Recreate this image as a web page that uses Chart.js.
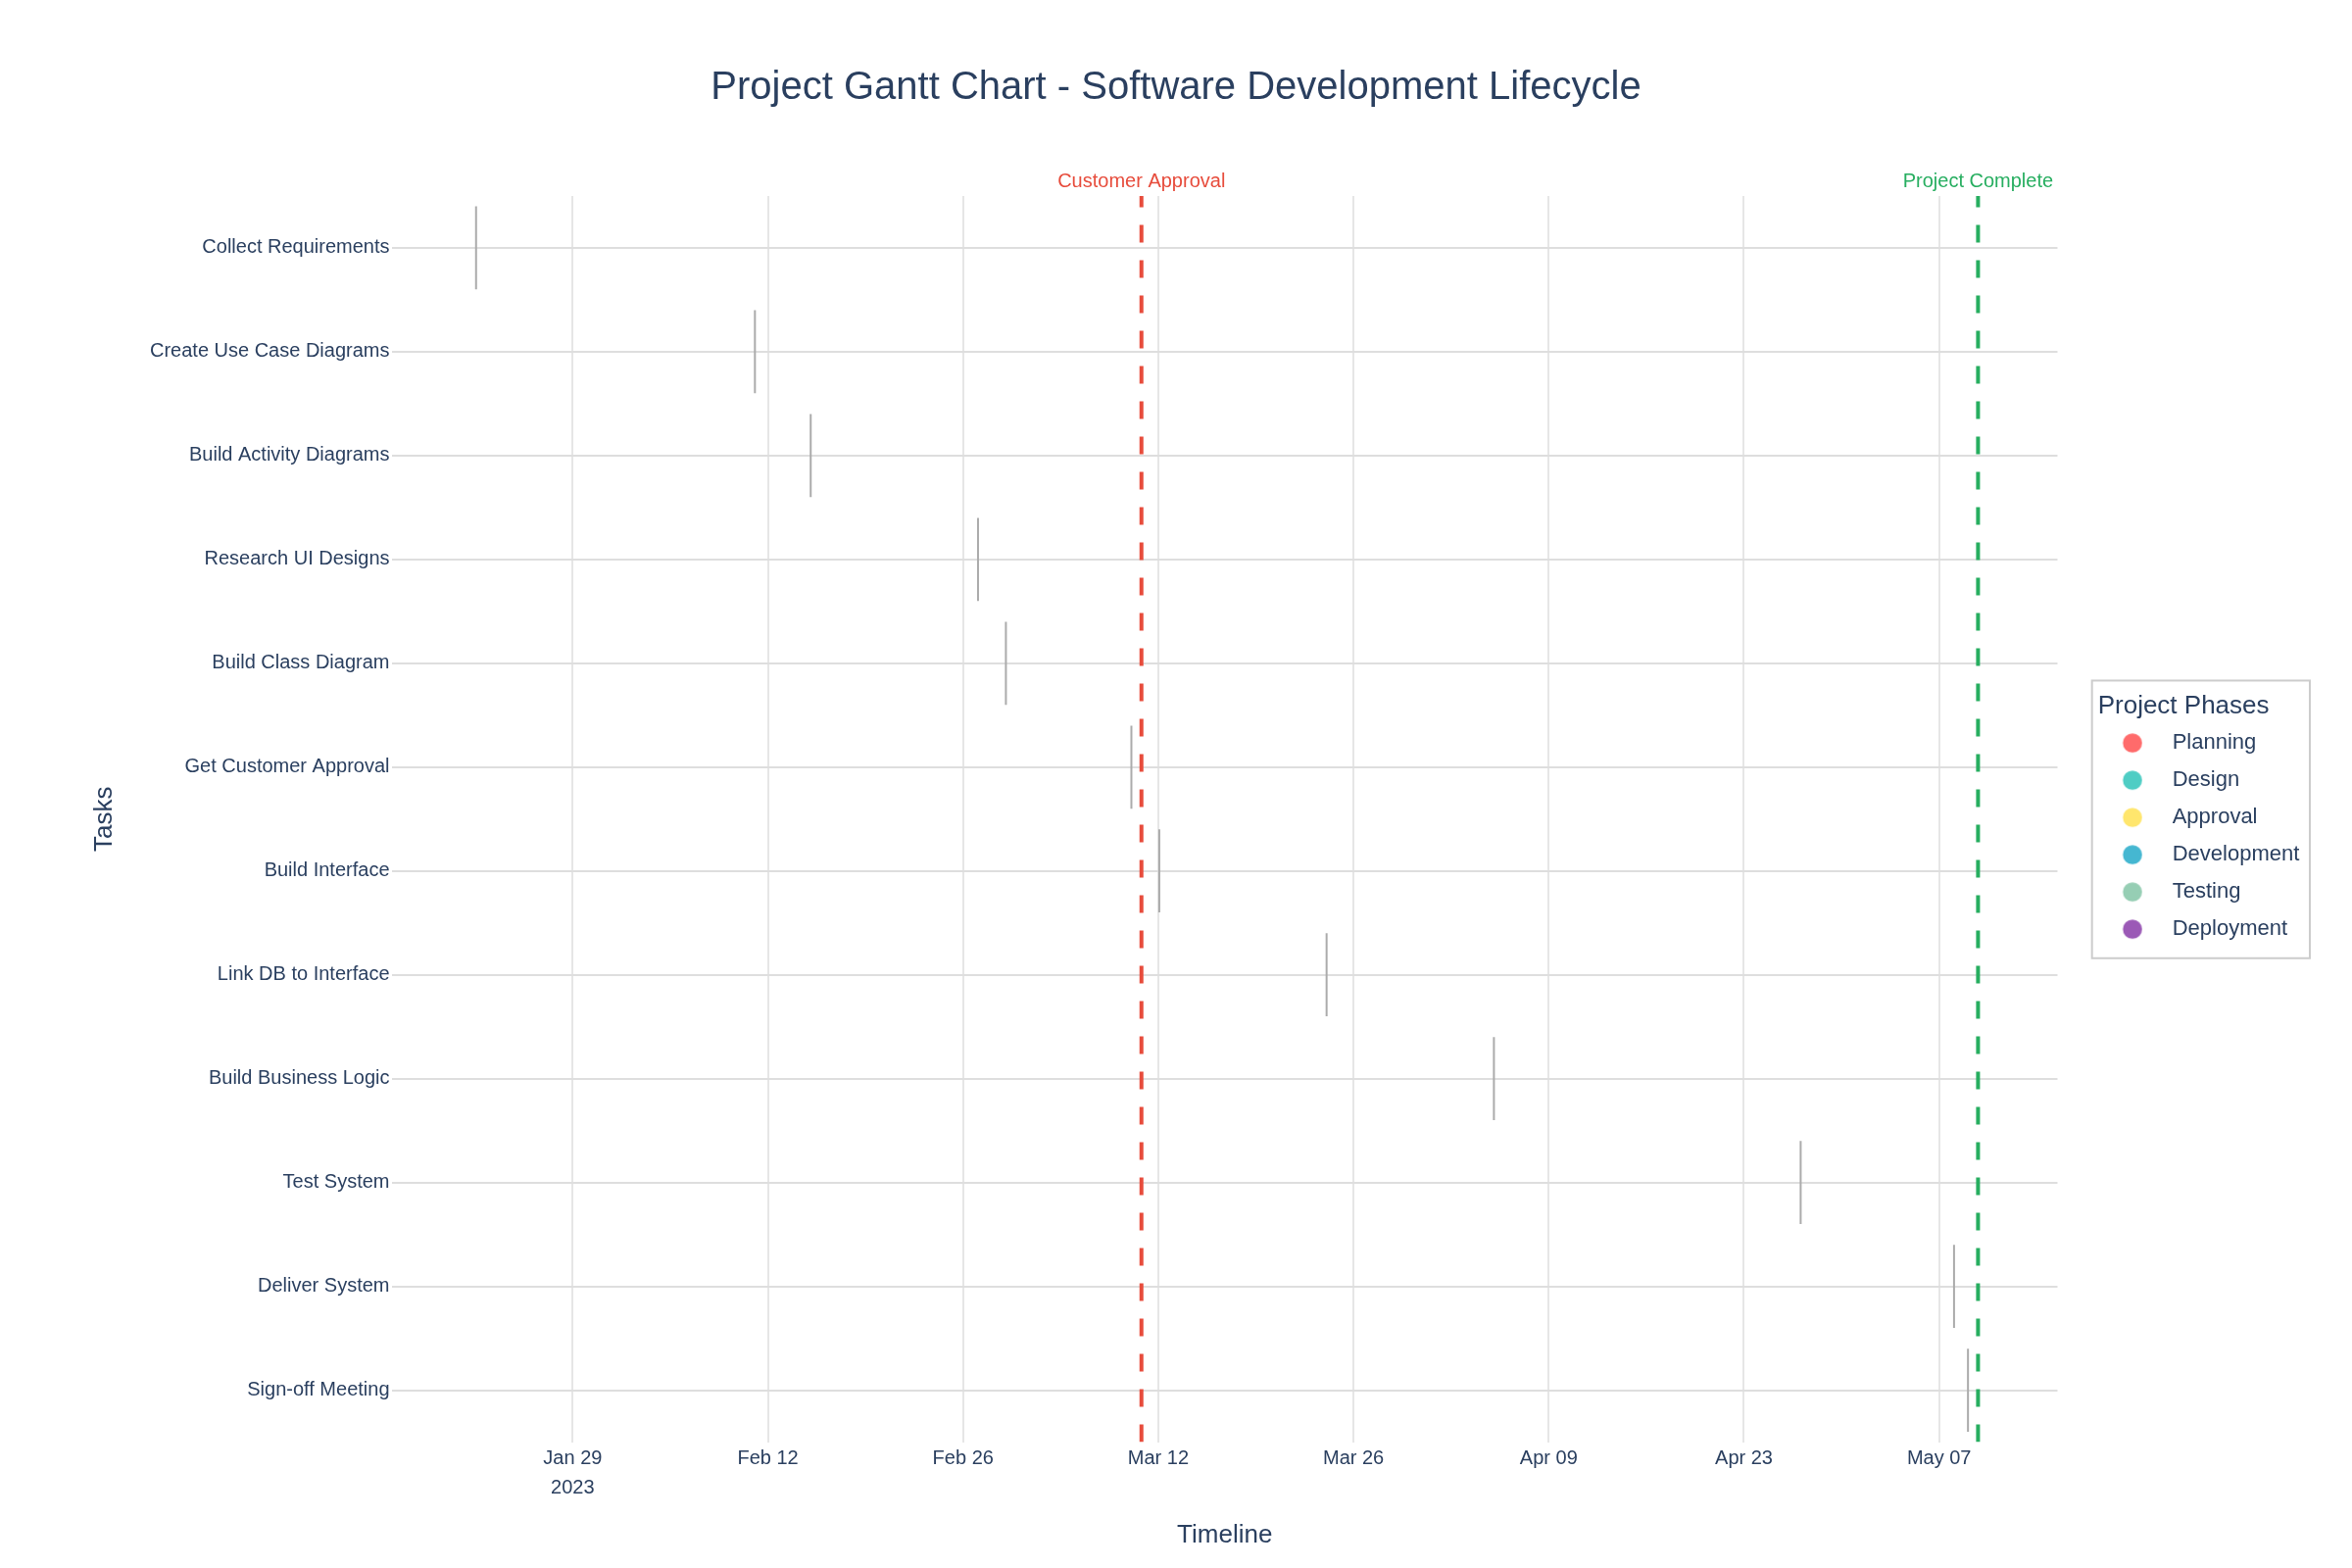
<!DOCTYPE html>
<html>
<head>
<meta charset="utf-8">
<script src="https://cdn.jsdelivr.net/npm/chart.js@4"></script>
<style>
  html, body { margin: 0; padding: 0; background: #ffffff; }
  canvas { display: block; }
</style>
</head>
<body>
<canvas id="chart" width="2400" height="1600"></canvas>
<script>
// ---------- DATA ----------
const tasks = [
  'Collect Requirements', 'Create Use Case Diagrams', 'Build Activity Diagrams',
  'Research UI Designs', 'Build Class Diagram', 'Get Customer Approval',
  'Build Interface', 'Link DB to Interface', 'Build Business Logic',
  'Test System', 'Deliver System', 'Sign-off Meeting'
];
const taskDates = [
  '2023-01-22', '2023-02-11', '2023-02-15', '2023-02-27', '2023-03-01', '2023-03-10',
  '2023-03-12', '2023-03-24', '2023-04-05', '2023-04-27', '2023-05-08', '2023-05-09'
];
const taskPhases = [
  'Planning', 'Design', 'Design', 'Design', 'Design', 'Approval',
  'Development', 'Development', 'Development', 'Testing', 'Deployment', 'Deployment'
];
const phases = ['Planning', 'Design', 'Approval', 'Development', 'Testing', 'Deployment'];
const phaseColors = ['#FF6B6B', '#4ECDC4', '#FFE66D', '#45B7D1', '#96CEB4', '#9B59B6'];

const milestoneNames = ['Customer Approval', 'Project Complete'];
const milestoneDates = ['2023-03-10T19:00', '2023-05-09T19:00'];
const milestoneColors = ['#E74C3C', '#27AE60'];

const tickDates = ['2023-01-29', '2023-02-12', '2023-02-26', '2023-03-12', '2023-03-26', '2023-04-09', '2023-04-23', '2023-05-07'];
const tickLabels = [['Jan 29', '2023'], 'Feb 12', 'Feb 26', 'Mar 12', 'Mar 26', 'Apr 09', 'Apr 23', 'May 07'];
const axisRange = ['2023-01-16T01:00', '2023-05-15T11:45'];

// ---------- HELPERS ----------
function toDay(s) {
  const [d, t = '00:00'] = s.split('T');
  const [Y, M, D] = d.split('-').map(Number);
  const [h, m] = t.split(':').map(Number);
  return Date.UTC(Y, M - 1, D, h, m) / 86400000;
}
const TEXT = '#2a3f5f';
Chart.defaults.font.family = '"Liberation Sans", Arial, Helvetica, sans-serif';
Chart.defaults.color = TEXT;

function legendDot(color) {
  const c = document.createElement('canvas');
  c.width = 49; c.height = 22;
  const g = c.getContext('2d');
  g.fillStyle = color;
  g.beginPath();
  g.arc(19.3, 11, 9.8, 0, Math.PI * 2);
  g.fill();
  return c;
}
const dots = phaseColors.map(legendDot);

const barDatasets = phases.map((p) => ({
  type: 'bar',
  label: p,
  indexAxis: 'y',
  xAxisID: 'x',
  yAxisID: 'y',
  data: tasks
    .map((t, i) => ({ t, i }))
    .filter(o => taskPhases[o.i] === p)
    .map(o => ({ y: o.t, x: [toDay(taskDates[o.i]), toDay(taskDates[o.i])] })),
  backgroundColor: '#ababab',
  borderWidth: 0,
  minBarLength: 2,
  grouped: false,
  barPercentage: 0.8,
  categoryPercentage: 1.0
}));

const lineDatasets = milestoneNames.map((m, k) => ({
  type: 'line',
  label: m,
  xAxisID: 'x',
  yAxisID: 'y2',
  data: [{ x: toDay(milestoneDates[k]), y: 0 }, { x: toDay(milestoneDates[k]), y: 1 }],
  borderColor: milestoneColors[k],
  borderWidth: 4,
  borderDash: [18, 18],
  pointRadius: 0,
  fill: false,
  tension: 0
}));

const legendBox = {
  id: 'legendBox',
  afterDraw(chart) {
    const L = chart.legend;
    if (!L || !L.legendHitBoxes || !L.legendHitBoxes.length) return;
    const hb = L.legendHitBoxes;
    const top = hb[0].top - 52.7;
    const bottom = hb[hb.length - 1].top + 40.6;
    const ctx = chart.ctx;
    ctx.save();
    ctx.strokeStyle = '#cccccc';
    ctx.lineWidth = 2;
    ctx.strokeRect(L.left - 6, top, 222.3, bottom - top);
    ctx.restore();
  }
};

const xMin = toDay(axisRange[0]);
const xMax = toDay(axisRange[1]);

const chart = new Chart(document.getElementById('chart'), {
  type: 'bar',
  data: { datasets: [...barDatasets, ...lineDatasets] },
  plugins: [legendBox],
  options: {
    responsive: false,
    devicePixelRatio: 1,
    animation: false,
    events: [],
    layout: { padding: { left: 43.7, right: 43.7, top: 0, bottom: 0 } },
    scales: {
      x: {
        type: 'linear', position: 'bottom', min: xMin, max: xMax, bounds: 'data',
        offset: false, beginAtZero: false,
        afterBuildTicks: s => { s.ticks = tickDates.map(d => ({ value: toDay(d) })); },
        afterFit: s => { s.height = 128.5; },
        ticks: {
          autoSkip: false, maxRotation: 0, minRotation: 0, padding: 1.5, color: TEXT,
          font: { size: 20, lineHeight: 1.5 },
          callback: (v, i) => tickLabels[i]
        },
        grid: { offset: false, color: '#e6e6e6', lineWidth: 2, drawTicks: false },
        border: { display: false },
        title: {
          display: true, text: 'Timeline', color: TEXT,
          font: { size: 26, lineHeight: 1.2 }, padding: { top: 0, bottom: 17.4 }
        }
      },
      x2: {
        type: 'linear', position: 'top', min: xMin, max: xMax, bounds: 'data',
        offset: false, beginAtZero: false,
        afterBuildTicks: s => { s.ticks = milestoneDates.map(d => ({ value: toDay(d) })); },
        afterFit: s => { s.height = 50; },
        ticks: {
          autoSkip: false, maxRotation: 0, minRotation: 0, padding: 3,
          font: { size: 20, lineHeight: 1.2 },
          color: c => milestoneColors[c.index],
          callback: (v, i) => milestoneNames[i]
        },
        grid: { display: false, offset: false, drawTicks: false },
        border: { display: false }
      },
      y: {
        type: 'category', labels: tasks, position: 'left', offset: true,
        afterFit: s => { s.width = 356.3; },
        ticks: { padding: 2.5, font: { size: 20 }, color: TEXT, autoSkip: false },
        grid: { offset: false, color: '#dedede', lineWidth: 2, drawTicks: false },
        border: { display: false },
        title: {
          display: true, text: 'Tasks', color: TEXT,
          font: { size: 26, lineHeight: 1.2 }, padding: { top: 47.7, bottom: 0 }
        }
      },
      y2: {
        type: 'linear', position: 'right', min: 0, max: 1, display: true,
        afterFit: s => { s.width = 41.2; },
        ticks: { display: false },
        grid: { display: false, drawTicks: false },
        border: { display: false }
      }
    },
    plugins: {
      title: {
        display: true,
        text: 'Project Gantt Chart - Software Development Lifecycle',
        color: TEXT,
        font: { size: 40, weight: 'normal', lineHeight: 1.2 },
        padding: { top: 66, bottom: 36 }
      },
      legend: {
        position: 'right', align: 'center', fullSize: false,
        title: {
          display: true, text: 'Project Phases', color: TEXT, position: 'start',
          font: { size: 26, lineHeight: 0.9 }, padding: { top: 11.4, bottom: 0 }
        },
        labels: {
          usePointStyle: true, pointStyleWidth: 49, boxHeight: 22, padding: 16,
          font: { size: 22 }, color: TEXT,
          generateLabels: () => phases.map((p, i) => ({
            text: p, fillStyle: phaseColors[i], strokeStyle: phaseColors[i], lineWidth: 0,
            pointStyle: dots[i], hidden: false, datasetIndex: i, fontColor: TEXT
          }))
        }
      },
      tooltip: { enabled: false }
    }
  }
});
</script>
</body>
</html>
